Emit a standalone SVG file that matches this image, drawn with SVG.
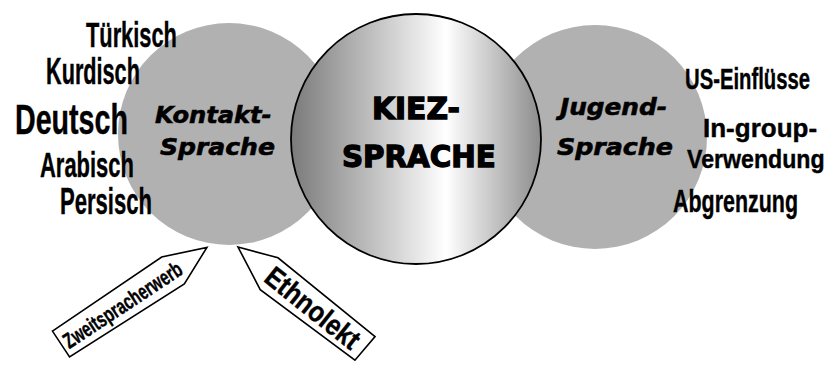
<svg xmlns="http://www.w3.org/2000/svg" width="830" height="365" viewBox="0 0 830 365">
<defs>
<linearGradient id="kiezGrad" x1="0" y1="0" x2="1" y2="0">
<stop offset="0" stop-color="#7a7a7a"/>
<stop offset="0.62" stop-color="#ffffff"/>
<stop offset="1" stop-color="#8c8c8c"/>
</linearGradient>
<style>
.side{fill:#b1b1b1;stroke:none}
.lang{font-family:"Liberation Sans",Arial,sans-serif;font-weight:bold;fill:#000;stroke:#000;stroke-width:0.4}
.ital{font-family:"DejaVu Sans","Liberation Sans",sans-serif;font-weight:bold;font-style:italic;font-size:23px;fill:#000;stroke:#000;stroke-width:0.6}
.kiez{font-family:"DejaVu Sans","Liberation Sans",sans-serif;font-weight:bold;font-size:31px;fill:#000;stroke:#000;stroke-width:1.4}
.arrow{fill:#fff;stroke:#000;stroke-width:1.6;stroke-linejoin:miter}
</style>
</defs>
<rect width="830" height="365" fill="#fff"/>

<g id="kontakt">
<circle class="side" cx="229" cy="134" r="111"/>
<text class="ital" transform="translate(155,123) scale(1.05,1)">Kontakt-</text>
<text class="ital" transform="translate(160,155) scale(1.09,1)">Sprache</text>
</g>

<g id="jugend">
<circle class="side" cx="595" cy="137" r="112"/>
</g>

<g id="kiez">
<circle cx="416" cy="139" r="125" fill="url(#kiezGrad)" stroke="#000" stroke-width="1.8"/>
<text class="kiez" transform="translate(372,119) scale(0.96,1)">KIEZ-</text>
<text class="kiez" transform="translate(342,167) scale(0.945,1)">SPRACHE</text>
</g>

<g id="jugend-text">
<text class="ital" transform="translate(560,115) scale(1.077,1)">Jugend-</text>
<text class="ital" transform="translate(557,155) scale(1.10,1)">Sprache</text>
</g>

<g id="sprachen-links">
<text class="lang" font-size="36" transform="translate(86,47) scale(0.606,1)">Türkisch</text>
<text class="lang" font-size="36" transform="translate(46,84) scale(0.602,1)">Kurdisch</text>
<text class="lang" font-size="43" stroke-width="1" transform="translate(15,134) scale(0.666,1)">Deutsch</text>
<text class="lang" font-size="36" transform="translate(40,177) scale(0.61,1)">Arabisch</text>
<text class="lang" font-size="36" transform="translate(60,214) scale(0.613,1)">Persisch</text>
</g>

<g id="merkmale-rechts">
<text class="lang" font-size="29" transform="translate(685,89) scale(0.699,1)">US-Einflüsse</text>
<text class="lang" font-size="26" x="703" y="137">In-group-</text>
<text class="lang" font-size="26" transform="translate(687,168) scale(0.891,1)">Verwendung</text>
<text class="lang" font-size="32" transform="translate(673,212) scale(0.67,1)">Abgrenzung</text>
</g>

<g id="connectors">
<g id="zweitspracherwerb" transform="translate(61,344) rotate(-33.5)">
<polygon class="arrow" points="0,-15.5 132,-17 175,0 136,18 0,15.5"/>
<text class="lang" font-size="22" stroke-width="0.3" transform="translate(4,9) scale(0.688,1)">Zweitspracherwerb</text>
</g>
<g id="ethnolekt" transform="translate(238,247) rotate(38.6)">
<polygon class="arrow" points="0,0 38,-16.5 163,-15.5 162,15.5 44,19.5"/>
<text class="lang" font-size="29" transform="translate(40,11) scale(0.855,1)">Ethnolekt</text>
</g>
</g>
</svg>
